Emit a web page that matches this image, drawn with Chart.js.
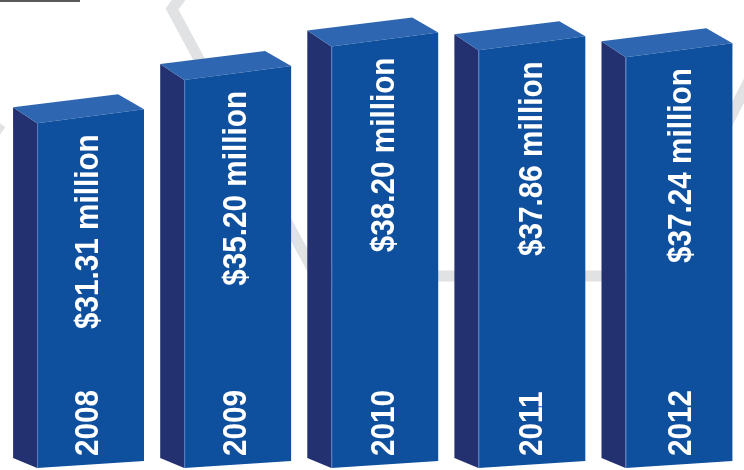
<!DOCTYPE html>
<html>
<head>
<meta charset="utf-8">
<title>Revenue 2008-2012</title>
<script src="https://cdn.jsdelivr.net/npm/chart.js@4"></script>
<style>
  html, body { margin: 0; padding: 0; background: #fff; }
  canvas { display: block; }
</style>
</head>
<body>
<canvas id="revenueChart" width="744" height="470"></canvas>
<script>
// data
const years = ["2008", "2009", "2010", "2011", "2012"];
const revenue = [31.31, 35.20, 38.20, 37.86, 37.24]; // $ million
const valueLabels = revenue.map(v => "$" + v.toFixed(2) + " million");

// box colours
const FRONT = "#0e4f9e";
const SIDE = "#243170";
const TOP = "#2f66b1";
const SIDE_W = 24; // depth of the left face

const fillPoly = (ctx, pts, color) => {
  ctx.beginPath();
  ctx.moveTo(pts[0][0], pts[0][1]);
  for (let k = 1; k < pts.length; k++) ctx.lineTo(pts[k][0], pts[k][1]);
  ctx.closePath();
  ctx.fillStyle = color;
  ctx.fill();
};

const vText = (ctx, text, x, y, align) => {
  ctx.save();
  ctx.translate(x, y);
  ctx.rotate(-Math.PI / 2);
  ctx.scale(0.9, 1);
  ctx.textAlign = align;
  ctx.textBaseline = "alphabetic";
  ctx.fillText(text, 0, 0);
  ctx.restore();
};

// grey zig-zag behind the bars + small rule top left
const backdrop = {
  id: "backdrop",
  beforeDatasetsDraw(chart) {
    const ctx = chart.ctx;
    ctx.save();
    ctx.strokeStyle = "#e1e2e4";
    ctx.lineWidth = 11;
    ctx.lineJoin = "miter";
    ctx.beginPath();
    ctx.moveTo(186, -10);
    ctx.lineTo(172, 9);
    ctx.lineTo(316, 276);
    ctx.lineTo(650, 276);
    ctx.lineTo(762, 55);
    ctx.stroke();
    ctx.beginPath();
    ctx.moveTo(-30, 165);
    ctx.lineTo(1, 124);
    ctx.stroke();
    ctx.fillStyle = "#58595b";
    ctx.fillRect(0, 0, 80, 2);
    ctx.restore();
  }
};

// draws each bar as a box with a left face and a top face
const boxBars = {
  id: "boxBars",
  afterDatasetsDraw(chart) {
    const ctx = chart.ctx;
    const meta = chart.getDatasetMeta(0);
    ctx.save();
    meta.data.forEach((bar, i) => {
      const { x, y, base, width } = bar.getProps(["x", "y", "base", "width"], true);
      const left = x - width / 2;
      const right = x + width / 2;
      const L = left + SIDE_W;
      const tl = y + 7, tr = y - 7;       // front top edge leans up to the right
      const bl = base + 3, br = base - 4; // front bottom edge

      fillPoly(ctx, [[left, tl - 16], [L, tl], [L, bl], [left, bl - 10]], SIDE);
      fillPoly(ctx, [[left, tl - 16], [right - 26, tr - 15], [right, tr], [L, tl]], TOP);
      fillPoly(ctx, [[L, tl], [right, tr], [right, br], [L, bl]], FRONT);

      ctx.strokeStyle = "#5f80c2";
      ctx.lineWidth = 1;
      ctx.beginPath();
      ctx.moveTo(L + 0.5, tl);
      ctx.lineTo(L + 0.5, bl);
      ctx.stroke();

      ctx.fillStyle = "#ffffff";
      ctx.font = "bold 33px 'Liberation Sans', Arial, sans-serif";
      const cx = (L + right) / 2 + 7 + 1.2 * i;
      vText(ctx, years[i], cx, base - 9, "left");
      vText(ctx, valueLabels[i], cx, y + 18, "right");
    });
    ctx.restore();
  }
};

new Chart(document.getElementById("revenueChart"), {
  type: "bar",
  data: {
    labels: years,
    datasets: [
      {
        label: "Revenue",
        data: revenue,
        backgroundColor: "rgba(0,0,0,0)",
        borderWidth: 0,
        categoryPercentage: 1,
        barPercentage: 0.89,
      },
    ],
  },
  options: {
    responsive: false,
    animation: false,
    layout: { padding: { left: 5, right: 3.5, top: 0, bottom: 5 } },
    scales: {
      x: { display: false },
      y: { display: false, min: 0, max: 41.75 },
    },
    plugins: {
      legend: { display: false },
      tooltip: { enabled: false },
    },
  },
  plugins: [backdrop, boxBars],
});
</script>
</body>
</html>
